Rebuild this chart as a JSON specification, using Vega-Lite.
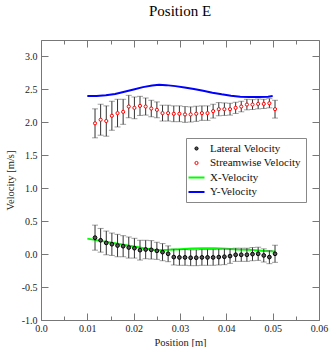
{
  "$schema": "https://vega.github.io/schema/vega-lite/v6.json",
  "width": 278,
  "height": 280,
  "autosize": {"type": "none"},
  "padding": {"left": 41, "top": 40, "right": 13, "bottom": 27},
  "background": "white",
  "title": {"text": "Position E", "font": "Liberation Serif, Times New Roman, serif", "fontSize": 15, "fontWeight": "normal", "color": "black", "offset": 21, "anchor": "middle"},
  "config": {
    "view": {"stroke": null},
    "axis": {"labelFont": "Liberation Serif, Times New Roman, serif", "titleFont": "Liberation Serif, Times New Roman, serif", "labelFontSize": 10, "titleFontSize": 10.5, "titleFontWeight": "normal", "labelColor": "#222", "titleColor": "#222", "domainColor": "#777", "tickColor": "#777", "grid": false}
  },
  "datasets": {
    "pts": [
      {"x": 0.01166, "lat": 0.25, "latErr": 0.19, "str": 1.985, "strErr": 0.22},
      {"x": 0.01287, "lat": 0.21, "latErr": 0.18, "str": 2.04, "strErr": 0.235},
      {"x": 0.01409, "lat": 0.17, "latErr": 0.18, "str": 2.02, "strErr": 0.23},
      {"x": 0.01530, "lat": 0.15, "latErr": 0.17, "str": 2.10, "strErr": 0.22},
      {"x": 0.01652, "lat": 0.13, "latErr": 0.17, "str": 2.14, "strErr": 0.21},
      {"x": 0.01773, "lat": 0.12, "latErr": 0.16, "str": 2.16, "strErr": 0.19},
      {"x": 0.01894, "lat": 0.10, "latErr": 0.16, "str": 2.24, "strErr": 0.17},
      {"x": 0.02016, "lat": 0.09, "latErr": 0.15, "str": 2.22, "strErr": 0.165},
      {"x": 0.02137, "lat": 0.06, "latErr": 0.15, "str": 2.25, "strErr": 0.145},
      {"x": 0.02259, "lat": 0.07, "latErr": 0.14, "str": 2.24, "strErr": 0.13},
      {"x": 0.02380, "lat": 0.065, "latErr": 0.14, "str": 2.21, "strErr": 0.125},
      {"x": 0.02501, "lat": 0.05, "latErr": 0.13, "str": 2.19, "strErr": 0.12},
      {"x": 0.02623, "lat": 0.03, "latErr": 0.13, "str": 2.14, "strErr": 0.12},
      {"x": 0.02744, "lat": 0.005, "latErr": 0.12, "str": 2.14, "strErr": 0.12},
      {"x": 0.02866, "lat": -0.045, "latErr": 0.12, "str": 2.13, "strErr": 0.12},
      {"x": 0.02987, "lat": -0.05, "latErr": 0.12, "str": 2.13, "strErr": 0.12},
      {"x": 0.03108, "lat": -0.05, "latErr": 0.12, "str": 2.12, "strErr": 0.12},
      {"x": 0.03230, "lat": -0.055, "latErr": 0.12, "str": 2.12, "strErr": 0.115},
      {"x": 0.03351, "lat": -0.055, "latErr": 0.12, "str": 2.13, "strErr": 0.115},
      {"x": 0.03473, "lat": -0.05, "latErr": 0.12, "str": 2.14, "strErr": 0.11},
      {"x": 0.03594, "lat": -0.05, "latErr": 0.12, "str": 2.14, "strErr": 0.11},
      {"x": 0.03715, "lat": -0.05, "latErr": 0.12, "str": 2.17, "strErr": 0.105},
      {"x": 0.03837, "lat": -0.045, "latErr": 0.12, "str": 2.20, "strErr": 0.1},
      {"x": 0.03958, "lat": -0.04, "latErr": 0.12, "str": 2.20, "strErr": 0.095},
      {"x": 0.04080, "lat": -0.03, "latErr": 0.11, "str": 2.20, "strErr": 0.09},
      {"x": 0.04201, "lat": -0.01, "latErr": 0.1, "str": 2.22, "strErr": 0.085},
      {"x": 0.04322, "lat": -0.01, "latErr": 0.1, "str": 2.24, "strErr": 0.08},
      {"x": 0.04444, "lat": -0.01, "latErr": 0.1, "str": 2.27, "strErr": 0.08},
      {"x": 0.04565, "lat": 0.0, "latErr": 0.1, "str": 2.27, "strErr": 0.075},
      {"x": 0.04687, "lat": 0.005, "latErr": 0.1, "str": 2.28, "strErr": 0.075},
      {"x": 0.04808, "lat": -0.02, "latErr": 0.1, "str": 2.28, "strErr": 0.07},
      {"x": 0.04929, "lat": -0.045, "latErr": 0.1, "str": 2.29, "strErr": 0.07},
      {"x": 0.05051, "lat": 0.005, "latErr": 0.13, "str": 2.20, "strErr": 0.135}
    ],
    "xvel": [
      {"x": 0.010, "v": 0.235}, {"x": 0.0125, "v": 0.205}, {"x": 0.015, "v": 0.175},
      {"x": 0.0175, "v": 0.145}, {"x": 0.020, "v": 0.115}, {"x": 0.0225, "v": 0.085},
      {"x": 0.025, "v": 0.06}, {"x": 0.0275, "v": 0.065}, {"x": 0.030, "v": 0.075},
      {"x": 0.0325, "v": 0.085}, {"x": 0.035, "v": 0.09}, {"x": 0.0375, "v": 0.09},
      {"x": 0.040, "v": 0.08}, {"x": 0.0425, "v": 0.07}, {"x": 0.045, "v": 0.065},
      {"x": 0.0475, "v": 0.05}, {"x": 0.0505, "v": 0.04}
    ],
    "yvel": [
      {"x": 0.010, "v": 2.40}, {"x": 0.012, "v": 2.40}, {"x": 0.014, "v": 2.41},
      {"x": 0.016, "v": 2.43}, {"x": 0.018, "v": 2.465}, {"x": 0.020, "v": 2.50},
      {"x": 0.022, "v": 2.535}, {"x": 0.024, "v": 2.56}, {"x": 0.0255, "v": 2.57},
      {"x": 0.027, "v": 2.565}, {"x": 0.029, "v": 2.55}, {"x": 0.031, "v": 2.53},
      {"x": 0.033, "v": 2.505}, {"x": 0.035, "v": 2.48}, {"x": 0.037, "v": 2.45},
      {"x": 0.039, "v": 2.425}, {"x": 0.041, "v": 2.405}, {"x": 0.043, "v": 2.39},
      {"x": 0.045, "v": 2.385}, {"x": 0.047, "v": 2.385}, {"x": 0.049, "v": 2.39},
      {"x": 0.050, "v": 2.40}
    ]
  },
  "resolve": {"axis": {"x": "independent", "y": "independent"}},
  "layer": [
    {
      "data": {"name": "xvel"},
      "mark": {"type": "line", "strokeWidth": 2},
      "encoding": {
        "x": {"field": "x", "type": "quantitative", "scale": {"domain": [0, 0.06], "nice": false},
          "axis": {"orient": "bottom", "title": "Position [m]", "values": [0, 0.005, 0.01, 0.015, 0.02, 0.025, 0.03, 0.035, 0.04, 0.045, 0.05, 0.055, 0.06],
            "tickSize": {"condition": {"test": "abs(datum.value*100 - round(datum.value*100)) < 0.000001", "value": -7}, "value": -4},
            "labelExpr": "abs(datum.value*100 - round(datum.value*100)) < 0.000001 ? (datum.value == 0 ? '0.0' : format(datum.value, '.1r')) : ''",
            "labelPadding": 10, "titlePadding": 1, "labelFlush": false, "labelOverlap": false}},
        "y": {"field": "v", "type": "quantitative", "scale": {"domain": [-1, 3.25], "nice": false, "zero": false},
          "axis": {"orient": "left", "title": "Velocity [m/s]", "values": [-1, -0.5, 0, 0.5, 1, 1.5, 2, 2.5, 3], "tickSize": -7,
            "labelExpr": "replace(format(datum.value, '.1f'), '\u2212', '-')", "labelPadding": 11, "titlePadding": 6, "labelFlush": false}},
        "color": {"datum": "X-Velocity", "type": "nominal",
          "scale": {"domain": ["Lateral Velocity", "Streamwise Velocity", "X-Velocity", "Y-Velocity"], "range": ["black", "red", "#00ff00", "#0000ff"]},
          "legend": {"orient": "none", "legendX": 145, "legendY": 98, "title": null, "fillColor": "white", "strokeColor": "#888", "padding": 5,
            "labelFont": "Liberation Serif, Times New Roman, serif", "labelFontSize": 11, "labelColor": "#111", "rowPadding": 2.5, "labelOffset": 8, "symbolSize": 256,
            "encode": {"symbols": {"update": {
              "shape": {"signal": "indexof(['X-Velocity','Y-Velocity'], datum.value) >= 0 ? 'stroke' : 'circle'"},
              "size": {"signal": "indexof(['X-Velocity','Y-Velocity'], datum.value) >= 0 ? 256 : 10"},
              "strokeWidth": {"signal": "indexof(['X-Velocity','Y-Velocity'], datum.value) >= 0 ? 2 : 1"},
              "fill": {"signal": "datum.value == 'Lateral Velocity' ? '#555' : 'white'"},
              "fillOpacity": {"value": 1},
              "stroke": {"signal": "scale('color', datum.value)"}
            }}}}}
      }
    },
    {
      "data": {"name": "yvel"},
      "mark": {"type": "line", "strokeWidth": 2},
      "encoding": {
        "x": {"field": "x", "type": "quantitative",
          "axis": {"orient": "top", "title": null, "values": [0, 0.005, 0.01, 0.015, 0.02, 0.025, 0.03, 0.035, 0.04, 0.045, 0.05, 0.055, 0.06],
            "tickSize": {"condition": {"test": "abs(datum.value*100 - round(datum.value*100)) < 0.000001", "value": -7}, "value": -4}, "labels": false}},
        "y": {"field": "v", "type": "quantitative",
          "axis": {"orient": "right", "title": null, "values": [-1, -0.5, 0, 0.5, 1, 1.5, 2, 2.5, 3], "tickSize": -7, "labels": false}},
        "color": {"datum": "Y-Velocity", "type": "nominal"}
      }
    },
    {
      "data": {"name": "pts"},
      "mark": {"type": "errorbar", "rule": {"color": "#333"}, "ticks": {"size": 6, "color": "#777"}},
      "encoding": {
        "x": {"field": "x", "type": "quantitative", "axis": null},
        "y": {"field": "str", "type": "quantitative", "axis": null},
        "yError": {"field": "strErr"}
      }
    },
    {
      "data": {"name": "pts"},
      "mark": {"type": "errorbar", "rule": {"color": "#333"}, "ticks": {"size": 6, "color": "#777"}},
      "encoding": {
        "x": {"field": "x", "type": "quantitative", "axis": null},
        "y": {"field": "lat", "type": "quantitative", "axis": null},
        "yError": {"field": "latErr"}
      }
    },
    {
      "data": {"name": "pts"},
      "mark": {"type": "point", "shape": "circle", "filled": false, "fill": "white", "fillOpacity": 1, "strokeWidth": 1, "size": 10, "opacity": 1},
      "encoding": {
        "x": {"field": "x", "type": "quantitative", "axis": null},
        "y": {"field": "str", "type": "quantitative", "axis": null},
        "color": {"datum": "Streamwise Velocity", "type": "nominal"}
      }
    },
    {
      "data": {"name": "pts"},
      "mark": {"type": "point", "shape": "circle", "filled": false, "fill": "#555", "fillOpacity": 1, "strokeWidth": 1, "size": 14, "opacity": 1},
      "encoding": {
        "x": {"field": "x", "type": "quantitative", "axis": null},
        "y": {"field": "lat", "type": "quantitative", "axis": null},
        "color": {"datum": "Lateral Velocity", "type": "nominal"}
      }
    }
  ]
}
